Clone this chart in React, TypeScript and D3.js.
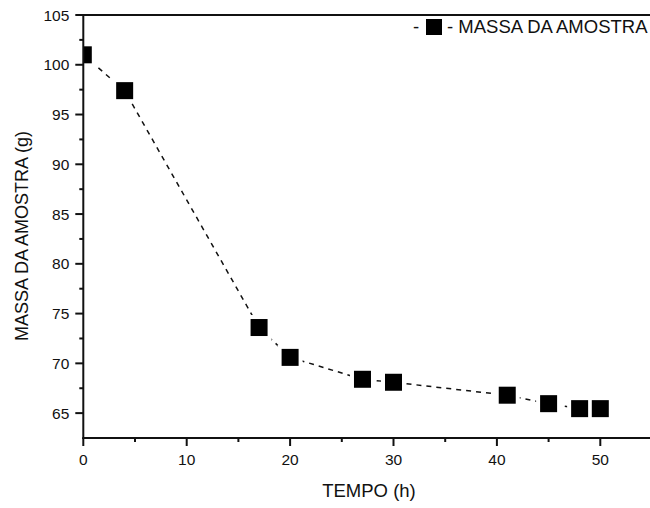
import React from "react";
import * as d3 from "d3";

const tempo = [0, 4, 17, 20, 27, 30, 41, 45, 48, 50];
const massa = [101.0, 97.4, 73.6, 70.6, 68.4, 68.1, 66.8, 65.95, 65.45, 65.45];
const xMajorTicks = [0, 10, 20, 30, 40, 50];
const xMinorTicks = [5, 15, 25, 35, 45];
const yMajorTicks = [65, 70, 75, 80, 85, 90, 95, 100, 105];
const yMinorTicks = [67.5, 72.5, 77.5, 82.5, 87.5, 92.5, 97.5, 102.5];
const seriesName = "MASSA DA AMOSTRA";
const xTitle = "TEMPO (h)";
const yTitle = "MASSA DA AMOSTRA (g)";

const W = 650;
const H = 508;
const left = 83.3;
const right = 652;
const top = 15;
const bottom = 438;

export default function App() {
  const x = d3.scaleLinear().domain([0, 55]).range([left, right]);
  const y = d3.scaleLinear().domain([62.5, 105]).range([bottom, top]);
  const pts = tempo.map((t, i) => [t, massa[i]] as [number, number]);
  const line = d3
    .line<[number, number]>()
    .x((d) => x(d[0]))
    .y((d) => y(d[1]))
    .curve(d3.curveLinear);
  const ms = 17;
  const gap = 4;
  const font = "Arial, 'Liberation Sans', sans-serif";
  return (
    <svg
      width={W}
      height={H}
      style={{ position: "absolute", left: 0, top: 0, background: "#fff" }}
      fontFamily={font}
    >
      <defs>
        <clipPath id="plot">
          <rect x={left} y={top} width={right - left} height={bottom - top} />
        </clipPath>
      </defs>
      <rect x={0} y={0} width={W} height={H} fill="#fff" />
      <g clipPath="url(#plot)">
        <path
          d={line(pts) || ""}
          fill="none"
          stroke="#111"
          strokeWidth={1.5}
          strokeDasharray="5,5"
        />
        {pts.map((d, i) => (
          <rect
            key={"w" + i}
            x={x(d[0]) - ms / 2 - gap}
            y={y(d[1]) - ms / 2 - gap}
            width={ms + 2 * gap}
            height={ms + 2 * gap}
            fill="#fff"
          />
        ))}
        {pts.map((d, i) => (
          <rect
            key={"m" + i}
            x={x(d[0]) - ms / 2}
            y={y(d[1]) - ms / 2}
            width={ms}
            height={ms}
            fill="#000"
          />
        ))}
      </g>
      {/* axes */}
      <line x1={left} x2={left} y1={top} y2={bottom + 1} stroke="#111" strokeWidth={2} />
      <line x1={left - 1} x2={right} y1={bottom} y2={bottom} stroke="#111" strokeWidth={2} />
      <line x1={left - 1} x2={right} y1={top} y2={top} stroke="#111" strokeWidth={2} />
      {xMajorTicks.map((t) => (
        <g key={"xt" + t}>
          <line x1={x(t)} x2={x(t)} y1={bottom} y2={bottom + 8} stroke="#111" strokeWidth={2} />
          <text x={x(t)} y={bottom + 27} textAnchor="middle" fontSize={15.5} fill="#111">
            {t}
          </text>
        </g>
      ))}
      {xMinorTicks.map((t) => (
        <line key={"xm" + t} x1={x(t)} x2={x(t)} y1={bottom} y2={bottom + 4} stroke="#111" strokeWidth={2} />
      ))}
      {yMajorTicks.map((t) => (
        <g key={"yt" + t}>
          <line x1={left - 8} x2={left} y1={y(t)} y2={y(t)} stroke="#111" strokeWidth={2} />
          <text x={left - 14} y={y(t) + 5.5} textAnchor="end" fontSize={15.5} fill="#111">
            {t}
          </text>
        </g>
      ))}
      {yMinorTicks.map((t) => (
        <line key={"ym" + t} x1={left - 4} x2={left} y1={y(t)} y2={y(t)} stroke="#111" strokeWidth={2} />
      ))}
      <text x={369} y={497} textAnchor="middle" fontSize={18.5} fill="#111">
        {xTitle}
      </text>
      <text
        transform={`translate(28, ${236}) rotate(-90)`}
        textAnchor="middle"
        fontSize={18}
        fill="#111"
      >
        {yTitle}
      </text>
      {/* legend */}
      <g>
        <text x={413} y={33} fontSize={18.5} fill="#111">-</text>
        <rect x={426} y={19} width={16} height={16} fill="#000" />
        <text x={447} y={33} fontSize={18.5} fill="#111">
          {"- " + seriesName}
        </text>
      </g>
    </svg>
  );
}
